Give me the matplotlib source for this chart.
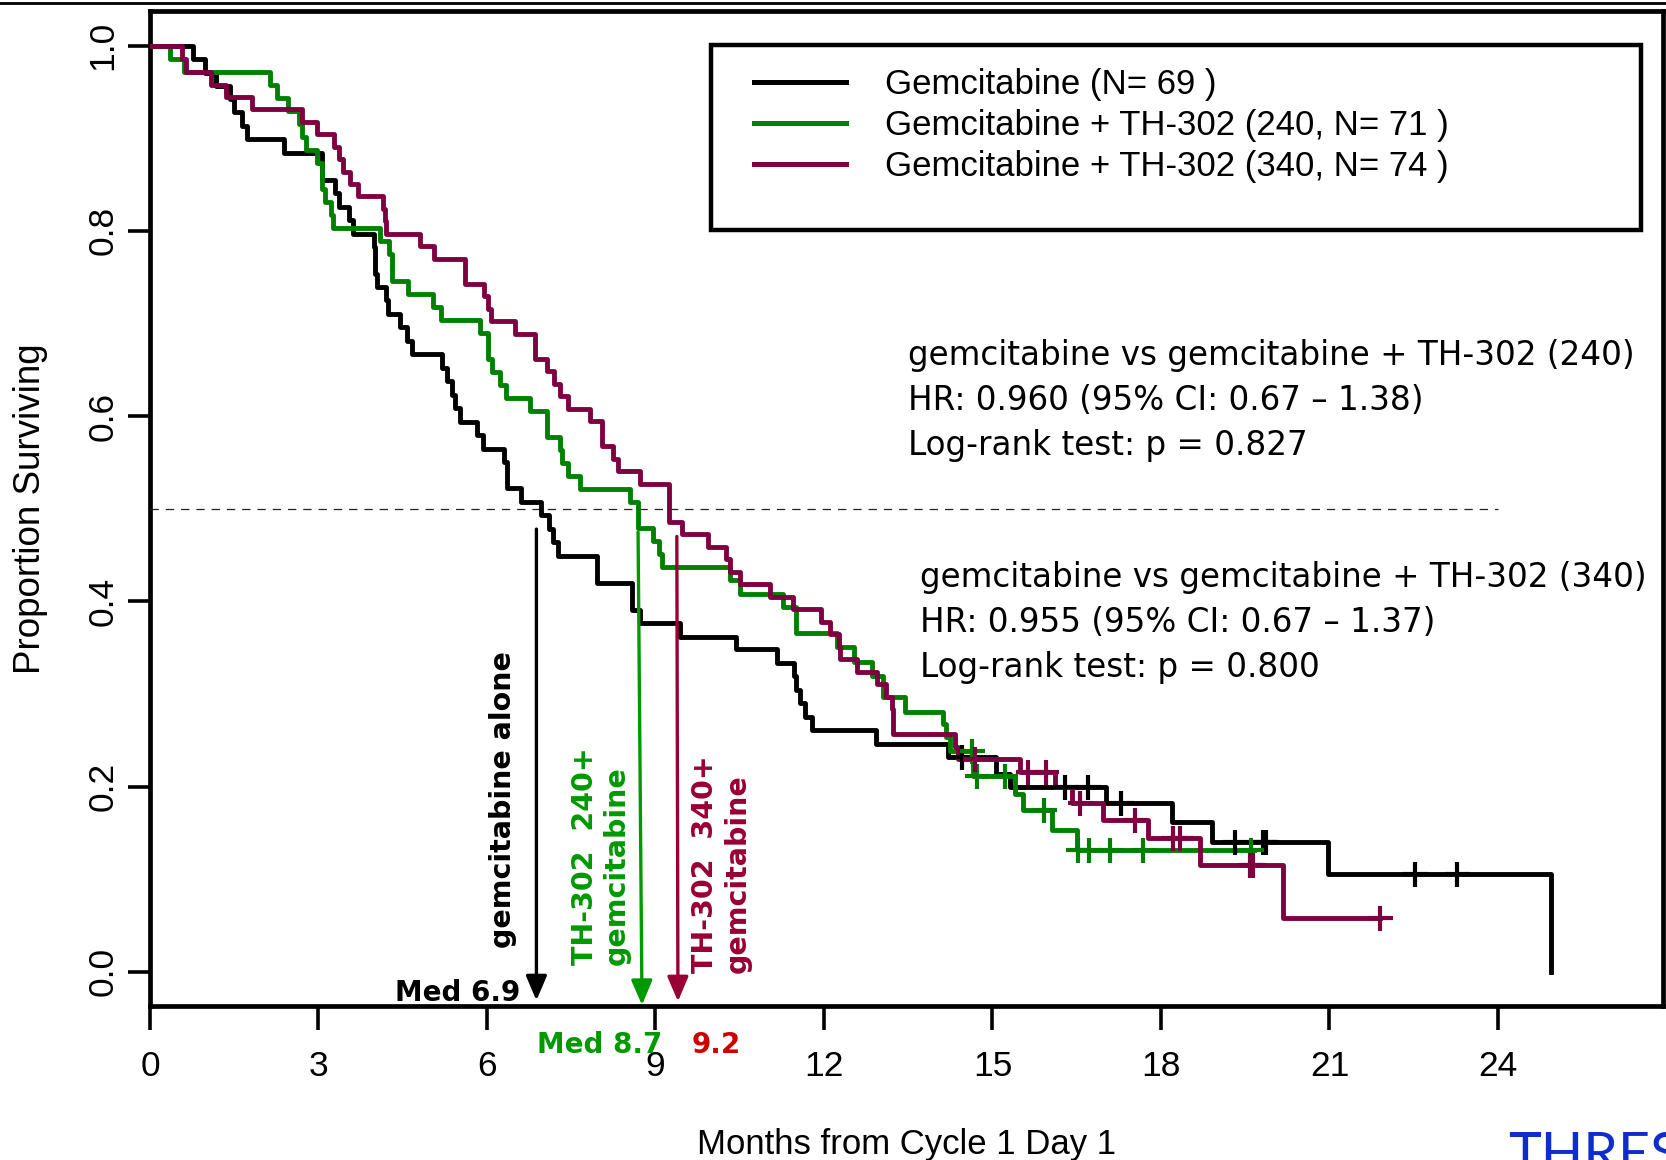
import matplotlib
matplotlib.use("Agg")
import matplotlib.pyplot as plt
from matplotlib.lines import Line2D
from matplotlib.patches import Rectangle

plt.rcParams['font.family'] = ['Liberation Sans', 'DejaVu Sans']
plt.rcParams['lines.scale_dashes'] = False

# ---------------- data ----------------
black_t = [0, 0.77, 0.98, 1.175, 1.42, 1.50, 1.63, 1.73, 2.39, 3.07,
           3.29, 3.37, 3.54, 3.62, 3.98, 4.00, 4.04, 4.21, 4.24, 4.45,
           4.57, 4.66, 5.20, 5.28, 5.37, 5.43, 5.52, 5.83, 5.93, 6.30,
           6.35, 6.60, 6.955, 7.10, 7.18, 7.27, 7.95, 8.59, 8.72, 9.44,
           10.43, 11.17, 11.47, 11.51, 11.57, 11.67, 11.79, 12.93, 14.21, 15.07,
           15.31, 17.03, 18.19, 18.90, 20.98, 24.95]
black_s = [1.0, 0.986, 0.971, 0.957, 0.942, 0.928, 0.913, 0.899, 0.884, 0.855,
           0.841, 0.826, 0.812, 0.797, 0.783, 0.754, 0.739, 0.725, 0.710, 0.696,
           0.681, 0.667, 0.652, 0.638, 0.623, 0.609, 0.594, 0.580, 0.565, 0.551,
           0.522, 0.507, 0.493, 0.478, 0.464, 0.449, 0.420, 0.391, 0.377, 0.362,
           0.348, 0.333, 0.319, 0.304, 0.290, 0.275, 0.261, 0.246, 0.232, 0.214,
           0.200, 0.182, 0.162, 0.140, 0.106, 0.0]
black_cens_t = [14.45, 16.29, 16.70, 17.28, 19.32, 19.82, 19.87, 22.52, 23.27]
black_cens_s = [0.232, 0.200, 0.200, 0.182, 0.140, 0.140, 0.140, 0.106, 0.106]

green_t = [0, 0.36, 0.60, 2.14, 2.26, 2.46, 2.65, 2.70, 2.77, 2.97,
           3.06, 3.12, 3.22, 3.26, 4.09, 4.26, 4.30, 4.60, 5.04, 5.19,
           5.875, 6.02, 6.09, 6.24, 6.34, 6.76, 7.06, 7.30, 7.33, 7.45,
           7.65, 8.55, 8.69, 8.96, 9.06, 9.11, 10.33, 10.50, 11.27, 11.50,
           11.51, 12.24, 12.53, 12.85, 13.05, 13.45, 14.12, 14.18, 14.24, 14.66,
           15.40, 15.55, 16.06, 16.51, 19.65]
green_s = [1.0, 0.986, 0.972, 0.958, 0.944, 0.930, 0.915, 0.901, 0.887, 0.873,
           0.845, 0.831, 0.817, 0.803, 0.789, 0.775, 0.746, 0.732, 0.718, 0.704,
           0.690, 0.662, 0.648, 0.634, 0.620, 0.606, 0.577, 0.563, 0.549, 0.535,
           0.521, 0.507, 0.479, 0.465, 0.451, 0.437, 0.423, 0.408, 0.394, 0.380,
           0.366, 0.351, 0.335, 0.319, 0.297, 0.281, 0.268, 0.253, 0.238, 0.211,
           0.192, 0.175, 0.153, 0.131, 0.131]
green_cens_t = [14.63, 14.72, 15.22, 15.92, 16.53, 16.72, 17.09, 17.68, 19.60]
green_cens_s = [0.238, 0.211, 0.211, 0.175, 0.131, 0.131, 0.131, 0.131, 0.131]

maroon_t = [0, 0.57, 0.64, 1.08, 1.35, 1.82, 2.70, 2.97, 3.28, 3.37,
            3.44, 3.56, 3.71, 4.14, 4.18, 4.21, 4.80, 5.05, 5.61, 5.95,
            6.02, 6.08, 6.50, 6.85, 7.07, 7.19, 7.30, 7.45, 7.83, 8.04,
            8.24, 8.34, 8.72, 9.24, 9.47, 9.94, 10.25, 10.33, 10.50, 11.04,
            11.45, 11.94, 12.11, 12.26, 12.29, 12.58, 12.95, 13.11, 13.22, 13.23,
            14.33, 14.39, 15.49, 16.11, 16.41, 16.97, 17.77, 18.69, 20.18, 21.90]
maroon_s = [1.0, 0.986, 0.972, 0.958, 0.945, 0.932, 0.918, 0.905, 0.891, 0.878,
            0.864, 0.851, 0.838, 0.824, 0.811, 0.797, 0.784, 0.770, 0.743, 0.730,
            0.716, 0.703, 0.689, 0.662, 0.649, 0.635, 0.622, 0.608, 0.595, 0.568,
            0.554, 0.541, 0.527, 0.486, 0.473, 0.459, 0.446, 0.432, 0.419, 0.405,
            0.392, 0.378, 0.365, 0.351, 0.338, 0.324, 0.311, 0.297, 0.284, 0.257,
            0.243, 0.230, 0.216, 0.200, 0.182, 0.164, 0.144, 0.115, 0.058, 0.058]
maroon_cens_t = [14.69, 15.64, 15.96, 16.56, 17.54, 18.22, 18.34, 19.58, 19.64, 21.90]
maroon_cens_s = [0.230, 0.216, 0.216, 0.182, 0.164, 0.144, 0.144, 0.115, 0.115, 0.058]

legend_labels = ['Gemcitabine (N= 69 )',
                 'Gemcitabine + TH-302 (240, N= 71 )',
                 'Gemcitabine + TH-302 (340, N= 74 )']

x_ticks = [0, 3, 6, 9, 12, 15, 18, 21, 24]
y_ticks = [0.0, 0.2, 0.4, 0.6, 0.8, 1.0]

# median arrows: (top x, top y) -> (tip x, tip y)
median_top_x = [6.88, 8.69, 9.38]
median_tip_x = [6.88, 8.76, 9.40]
median_top_y = [0.478, 0.475, 0.470]
median_tip_y = [-0.031, -0.036, -0.032]

block1 = ['gemcitabine vs gemcitabine + TH-302 (240)',
          'HR: 0.960 (95% CI: 0.67 \u2013 1.38)',
          'Log-rank test: p = 0.827']
block2 = ['gemcitabine vs gemcitabine + TH-302 (340)',
          'HR: 0.955 (95% CI: 0.67 \u2013 1.37)',
          'Log-rank test: p = 0.800']

# ---------------- styling ----------------
C_BLACK = '#000000'
C_GREEN = '#008000'
C_MAROON = '#7f0040'
C_GREEN_TXT = '#009900'
C_MAROON_TXT = '#990033'
C_RED_TXT = '#cc0000'
ANN_FONT = ['DejaVu Sans']

fig = plt.figure(figsize=(16.66, 11.6), dpi=100)
ax = fig.add_axes([0.09004, 0.13276, 0.9082, 0.85776])
ax.set_xlim(0, 26.94)
ax.set_ylim(-0.037, 1.0375)

series = [(black_t, black_s, black_cens_t, black_cens_s, C_BLACK),
          (green_t, green_s, green_cens_t, green_cens_s, C_GREEN),
          (maroon_t, maroon_s, maroon_cens_t, maroon_cens_s, C_MAROON)]
for t, s, ct, cs, c in series:
    ax.step(t, s, where='post', color=c, lw=3.5, zorder=4)
    ax.plot(ct, cs, ls='none', marker='+', ms=18, mew=3.0, color=c, zorder=5)

# median reference line
ax.hlines(0.5, 0, 24, colors='#222222', linestyles=(0, (6, 5)), lw=0.9, zorder=3)

# median arrows
arrow_cols = [C_BLACK, C_GREEN_TXT, C_MAROON_TXT]
for xt, yt, xb, yb, c in zip(median_top_x, median_top_y, median_tip_x, median_tip_y, arrow_cols):
    ax.annotate('', xy=(xb, yb), xytext=(xt, yt),
                arrowprops=dict(arrowstyle='-|>,head_length=0.75,head_width=0.32',
                                color=c, lw=2.4, mutation_scale=20,
                                shrinkA=0, shrinkB=0), zorder=6)

# arrow labels
ax.text(6.285, 0.0256, 'gemcitabine alone', rotation=90, ha='center', va='bottom',
        fontsize=20.5, fontweight='bold', color=C_BLACK, family=ANN_FONT)
ax.text(8.03, 0.0073, 'TH-302  240+\ngemcitabine', rotation=90, ha='center', va='bottom',
        multialignment='left', linespacing=1.2,
        fontsize=20.5, fontweight='bold', color=C_GREEN_TXT, family=ANN_FONT)
ax.text(10.17, -0.0014, 'TH-302  340+\ngemcitabine', rotation=90, ha='center', va='bottom',
        multialignment='left', linespacing=1.2,
        fontsize=20.5, fontweight='bold', color=C_MAROON_TXT, family=ANN_FONT)

ax.text(6.59, -0.0316, 'Med 6.9', ha='right', va='baseline', fontsize=20,
        fontweight='bold', color=C_BLACK, family=ANN_FONT)
ax.text(6.89, -0.0878, 'Med 8.7', ha='left', va='baseline', fontsize=20,
        fontweight='bold', color=C_GREEN_TXT, family=ANN_FONT, clip_on=False)
ax.text(9.65, -0.0878, '9.2', ha='left', va='baseline', fontsize=20,
        fontweight='bold', color=C_RED_TXT, family=ANN_FONT, clip_on=False)

# statistics text
for line, y in zip(block1, [0.6553, 0.6067, 0.5581]):
    ax.text(13.49, y, line, ha='left', va='baseline', fontsize=23.5, family=ANN_FONT)
for line, y in zip(block2, [0.4158, 0.3672, 0.3186]):
    ax.text(13.71, y, line, ha='left', va='baseline', fontsize=23.5, family=ANN_FONT)

# legend box + entries
ax.add_patch(Rectangle((9.99, 0.801), 26.54 - 9.99, 1.0008 - 0.801, fill=True,
                       facecolor='white', edgecolor='black', lw=3.2, zorder=6,
                       clip_on=False))
handles = [Line2D([], [], color=c, lw=3.6) for c in (C_BLACK, C_GREEN, C_MAROON)]
leg = ax.legend(handles, legend_labels, loc='upper left',
                bbox_to_anchor=(10.75, 0.9755), bbox_transform=ax.transData,
                frameon=False, fontsize=25, handlelength=2.65, handletextpad=1.12,
                labelspacing=0.22, borderpad=0, borderaxespad=0)
leg.set_zorder(7)

# axes styling
for sp in ax.spines.values():
    sp.set_linewidth(3.4)
ax.set_xticks(x_ticks)
ax.set_xticklabels([str(v) for v in x_ticks])
ax.set_yticks(y_ticks)
ax.set_yticklabels(['%.1f' % v for v in y_ticks])
ax.tick_params(axis='x', direction='out', length=17, width=2.6, labelsize=25.5, pad=15)
ax.tick_params(axis='y', direction='out', length=16, width=2.6, labelsize=25.5, pad=6,
               labelrotation=90)
for lab in ax.get_yticklabels():
    lab.set_va('center')

ax.set_xlabel('Months from Cycle 1 Day 1', fontsize=25)
ax.xaxis.set_label_coords(0.5, -0.1387)
ax.xaxis.label.set_va('center')
ax.set_ylabel('Proportion Surviving', fontsize=26.5)
ax.yaxis.set_label_coords(-0.0793, 0.5)
ax.yaxis.label.set_va('center')

# slide artefacts: top rule and cropped logo text
fig.add_artist(Line2D([0, 1], [1 - 3 / 1160, 1 - 3 / 1160], transform=fig.transFigure,
                      color='black', lw=2.0))
fig.text(1508 / 1666, 1 - 1131 / 1160, 'THRESHOLD', color='#0f2ccc', fontsize=40,
         ha='left', va='top', family=['Lato', 'DejaVu Sans'], fontweight='normal')

fig.savefig('out.png', dpi=100)
